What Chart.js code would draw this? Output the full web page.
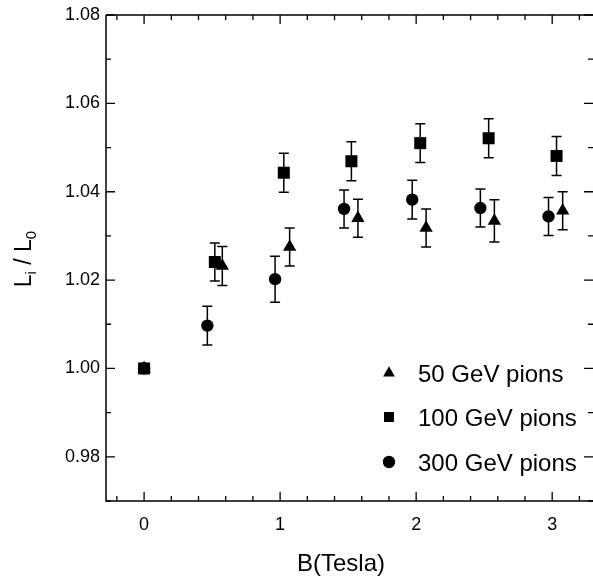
<!DOCTYPE html>
<html><head><meta charset="utf-8">
<script src="https://cdn.jsdelivr.net/npm/chart.js@4.4.0/dist/chart.umd.min.js"></script>
<style>html,body{margin:0;padding:0;background:#fff}canvas{display:block}</style>
</head><body>
<canvas id="c" width="593" height="579"></canvas>
<script>
// ---- data ----
const xTickValues = [0, 1, 2, 3];
const yTickValues = [0.98, 1.00, 1.02, 1.04, 1.06, 1.08];

const seriesNames = ['50 GeV pions', '100 GeV pions', '300 GeV pions'];
const xTitle = 'B(Tesla)';

const b50  = [0.00, 0.575, 1.07, 1.572, 2.073, 2.575, 3.077];
const l50  = [1.000, 1.0232, 1.0275, 1.0340, 1.0318, 1.0334, 1.0357];
const e50  = [0, 0.0044, 0.0043, 0.0043, 0.0043, 0.0048, 0.0043];

const b100 = [0.00, 0.52, 1.027, 1.524, 2.03, 2.533, 3.032];
const l100 = [1.000, 1.0241, 1.0443, 1.0469, 1.0510, 1.0521, 1.0481];
const e100 = [0, 0.0043, 0.0044, 0.0044, 0.0044, 0.0044, 0.0044];

const b300 = [0.00, 0.465, 0.963, 1.47, 1.971, 2.472, 2.973];
const l300 = [1.000, 1.0097, 1.0202, 1.0361, 1.0382, 1.0363, 1.0344];
const e300 = [0, 0.0044, 0.0052, 0.0043, 0.0044, 0.0043, 0.0043];

const FONT = "'Liberation Sans', Arial, Helvetica, sans-serif";

function pts(xs, ys) { return xs.map((x, i) => ({x: x, y: ys[i]})); }

const errorBars = {
  id: 'errorBars',
  beforeDatasetsDraw(chart) {
    const ctx = chart.ctx, xs = chart.scales.x, ys = chart.scales.y;
    ctx.save();
    ctx.strokeStyle = '#000'; ctx.lineWidth = 1.5;
    chart.data.datasets.forEach(ds => {
      ds.data.forEach((p, i) => {
        const e = ds.errors[i];
        if (!e) return;
        const px = xs.getPixelForValue(p.x);
        const y1 = ys.getPixelForValue(p.y + e), y2 = ys.getPixelForValue(p.y - e);
        ctx.beginPath();
        ctx.moveTo(px, y1); ctx.lineTo(px, y2);
        ctx.moveTo(px - 5, y1); ctx.lineTo(px + 5, y1);
        ctx.moveTo(px - 5, y2); ctx.lineTo(px + 5, y2);
        ctx.stroke();
      });
    });
    ctx.restore();
  }
};

const frame = {
  id: 'frame',
  afterDraw(chart) {
    const ctx = chart.ctx, ca = chart.chartArea, xs = chart.scales.x, ys = chart.scales.y;
    ctx.save();
    ctx.strokeStyle = '#000'; ctx.lineWidth = 1.5;
    ctx.beginPath();
    ctx.moveTo(ca.left, ca.top); ctx.lineTo(ca.left, ca.bottom); ctx.lineTo(ca.right, ca.bottom);
    ctx.moveTo(ca.left, ca.top); ctx.lineTo(ca.right, ca.top);
    ctx.stroke();
    ctx.lineWidth = 1.3;
    ctx.beginPath();
    for (let k = -1; k <= 16; k++) {
      const v = k / 5;
      if (v < xs.min || v > xs.max) continue;
      const px = xs.getPixelForValue(v);
      const len = (k % 5 === 0) ? 9 : 5;
      ctx.moveTo(px, ca.bottom); ctx.lineTo(px, ca.bottom - len);
      ctx.moveTo(px, ca.top); ctx.lineTo(px, ca.top + len);
    }
    for (let k = 97; k <= 108; k++) {
      const v = k / 100;
      const py = ys.getPixelForValue(v);
      const len = (k % 2 === 0) ? 9 : 5;
      ctx.moveTo(ca.left, py); ctx.lineTo(ca.left + len, py);
      ctx.moveTo(ca.right, py); ctx.lineTo(ca.right - len, py);
    }
    ctx.stroke();

    // legend
    const lx = 389, tx = 418, rows = [373, 417, 462];
    ctx.fillStyle = '#000';
    let r = 6.8, cy = rows[0];
    ctx.beginPath();
    ctx.moveTo(lx, cy - r); ctx.lineTo(lx + r * 0.866, cy + r / 2); ctx.lineTo(lx - r * 0.866, cy + r / 2);
    ctx.closePath(); ctx.fill();
    ctx.fillRect(lx - 5, rows[1] - 5, 10, 10);
    ctx.beginPath(); ctx.arc(lx, rows[2], 6.2, 0, Math.PI * 2); ctx.fill();
    ctx.font = '24px ' + FONT;
    ctx.textBaseline = 'middle'; ctx.textAlign = 'left';
    seriesNames.forEach((n, i) => ctx.fillText(n, tx, rows[i] + 2));

    // x-axis title
    ctx.textAlign = 'center';
    ctx.font = '24px ' + FONT;
    ctx.fillText(xTitle, 341, 564);

    // y-axis title with subscripts
    ctx.textAlign = 'left';
    ctx.translate(31, 259);
    ctx.rotate(-Math.PI / 2);
    const big = '23px ' + FONT, small = '15px ' + FONT;
    const parts = [['L', big, 0], ['i', small, 5], [' / L', big, 0], ['0', small, 5]];
    let w = 0;
    parts.forEach(p => { ctx.font = p[1]; w += ctx.measureText(p[0]).width; });
    let x = -w / 2;
    ctx.textBaseline = 'alphabetic';
    parts.forEach(p => { ctx.font = p[1]; ctx.fillText(p[0], x, p[2]); x += ctx.measureText(p[0]).width; });
    ctx.restore();
  }
};

new Chart(document.getElementById('c'), {
  type: 'scatter',
  data: {
    datasets: [
      {label: seriesNames[0], data: pts(b50, l50), errors: e50, pointStyle: 'triangle', pointRadius: 7.7,
       backgroundColor: '#000', borderColor: '#000', borderWidth: 0},
      {label: seriesNames[1], data: pts(b100, l100), errors: e100, pointStyle: 'rect', pointRadius: 8.5,
       backgroundColor: '#000', borderColor: '#000', borderWidth: 0},
      {label: seriesNames[2], data: pts(b300, l300), errors: e300, pointStyle: 'circle', pointRadius: 6.2,
       backgroundColor: '#000', borderColor: '#000', borderWidth: 0}
    ]
  },
  options: {
    responsive: false,
    animation: false,
    devicePixelRatio: 1,
    layout: {autoPadding: false, padding: {top: 15, right: 0, left: 0, bottom: 0}},
    plugins: {legend: {display: false}, tooltip: {enabled: false}},
    elements: {point: {hoverRadius: 0}},
    scales: {
      x: {
        type: 'linear', min: -0.28, max: 3.30,
        afterBuildTicks: s => { s.ticks = xTickValues.map(v => ({value: v})); },
        afterFit: s => { s.height = 78; s.paddingLeft = 0; s.paddingRight = 0; },
        grid: {display: false, drawTicks: false}, border: {display: false},
        ticks: {color: '#000', padding: 13, font: {family: FONT, size: 18}, callback: v => String(v), maxRotation: 0},
        title: {display: false}
      },
      y: {
        type: 'linear', min: 0.97, max: 1.08,
        afterBuildTicks: s => { s.ticks = yTickValues.map(v => ({value: v})); },
        afterFit: s => { s.width = 106; s.paddingTop = 0; s.paddingBottom = 0; },
        grid: {display: false, drawTicks: false}, border: {display: false},
        ticks: {color: '#000', padding: 6, font: {family: FONT, size: 18}, callback: v => v.toFixed(2)}
      }
    }
  },
  plugins: [errorBars, frame]
});
</script>
</body></html>
